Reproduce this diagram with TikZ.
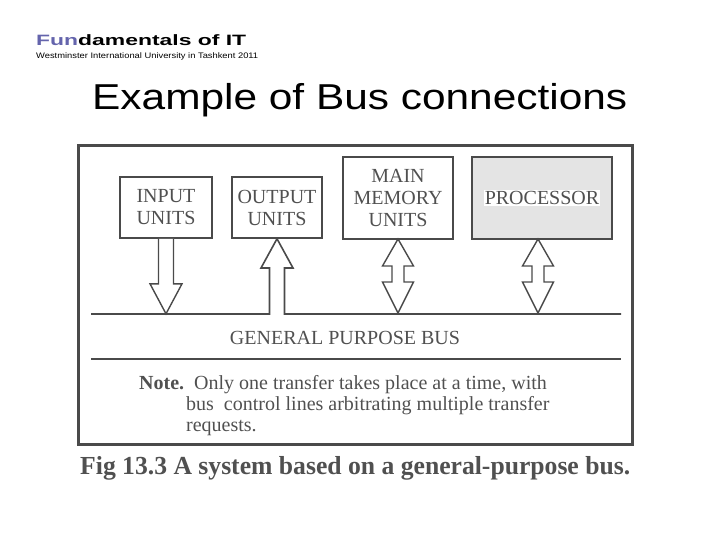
\documentclass[tikz,border=0pt]{standalone}
\usepackage{fontspec}
\usepackage{graphicx}
\setmainfont{Liberation Serif}
\newfontfamily\hsans{Liberation Sans}
\usetikzlibrary{calc}
\definecolor{ink}{HTML}{4A4A4A}
\definecolor{txt}{HTML}{505050}
\definecolor{fun}{HTML}{6464AC}
\definecolor{procfill}{HTML}{E4E4E4}
\begin{document}
\begin{tikzpicture}[x=1pt,y=-1pt,
  unitbox/.style={draw=ink,line width=1.6pt,inner sep=0pt,align=center,
    font=\fontsize{20}{22}\selectfont,text=txt},
  blockarrow/.style={draw=ink,line width=1.4pt,fill=white,line join=miter},
  busline/.style={draw=ink,line width=1.6pt},
  plain/.style={inner sep=0pt,anchor=base west,text=txt}]
\useasboundingbox (0,0) rectangle (720,540);

% header
\node[inner sep=0pt,anchor=base west] (hdr) at (36,46)
  {\resizebox{210pt}{\height}{\hsans\bfseries\fontsize{15}{17}\selectfont\textcolor{fun}{Fun}damentals of IT}};
\node[inner sep=0pt,anchor=base west] (sub) at (36,59)
  {\resizebox{222pt}{\height}{\hsans\fontsize{8}{9}\selectfont Westminster International University in Tashkent 2011}};
\node[inner sep=0pt,anchor=base west] (title) at (92,110)
  {\resizebox{535pt}{\height}{\hsans\fontsize{36}{40}\selectfont Example of Bus connections}};

% frame
\draw[draw=ink,line width=3pt] (78,146) rectangle (632,444);

% units
\node[unitbox,minimum width=92pt,minimum height=61pt] (inp) at (166,207.5) {INPUT\\UNITS};
\node[unitbox,minimum width=90pt,minimum height=61pt] (outp) at (277,207.5) {OUTPUT\\UNITS};
\node[unitbox,minimum width=110pt,minimum height=82pt] (mem) at (398,198) {MAIN\\MEMORY\\UNITS};
\node[unitbox,minimum width=140pt,minimum height=82pt,fill=procfill] (proc) at (542,198) {};
\node[inner sep=1pt,fill=white,text=txt,font=\fontsize{20}{22}\selectfont] (proclbl) at (proc.center) {PROCESSOR};

% bus
\coordinate (busL) at (91,314);
\coordinate (busR) at (621,314);
\coordinate (busL2) at (91,359);
\coordinate (busR2) at (621,359);
\draw[busline] (busL) -- (269.5,314) -- (269.5,268) -- (261,268) -- (outp.south)
  -- (293,268) -- (284.5,268) -- (284.5,314) -- (busR);
\draw[busline] (busL2) -- (busR2);

% input arrow (down)
\draw[blockarrow,shift={(inp.south)}] (-7.5,0) -- (-7.5,45) -- (-16,45) -- (0,75)
  -- (16,45) -- (7.5,45) -- (7.5,0);
% memory and processor double arrows
\draw[blockarrow,shift={(398,239)}] (0,0) -- (15.5,27) -- (6,27) -- (6,43) -- (15.5,43)
  -- (0,74) -- (-15.5,43) -- (-6,43) -- (-6,27) -- (-15.5,27) -- cycle;
\draw[blockarrow,shift={(538,239)}] (0,0) -- (15.5,27) -- (6,27) -- (6,43) -- (15.5,43)
  -- (0,74) -- (-15.5,43) -- (-6,43) -- (-6,27) -- (-15.5,27) -- cycle;

% bus label
\node[inner sep=0pt,text=txt,font=\fontsize{20}{22}\selectfont] (buslbl) at (345,337.5) {GENERAL PURPOSE BUS};

% note
\begin{scope}[font=\fontsize{20}{22}\selectfont]
\node[plain] (n1) at (139,389) {\textbf{Note.}\ \ Only one transfer takes place at a time, with};
\node[plain] (n2) at (186,410) {bus\ \ control lines arbitrating multiple transfer};
\node[plain] (n3) at (186,431) {requests.};
\end{scope}

% caption
\node[inner sep=0pt,anchor=base west,text=txt] (cap) at (80,474)
  {\resizebox{550pt}{\height}{\bfseries\fontsize{26}{30}\selectfont Fig 13.3 A system based on a general-purpose bus.}};
\end{tikzpicture}
\end{document}
